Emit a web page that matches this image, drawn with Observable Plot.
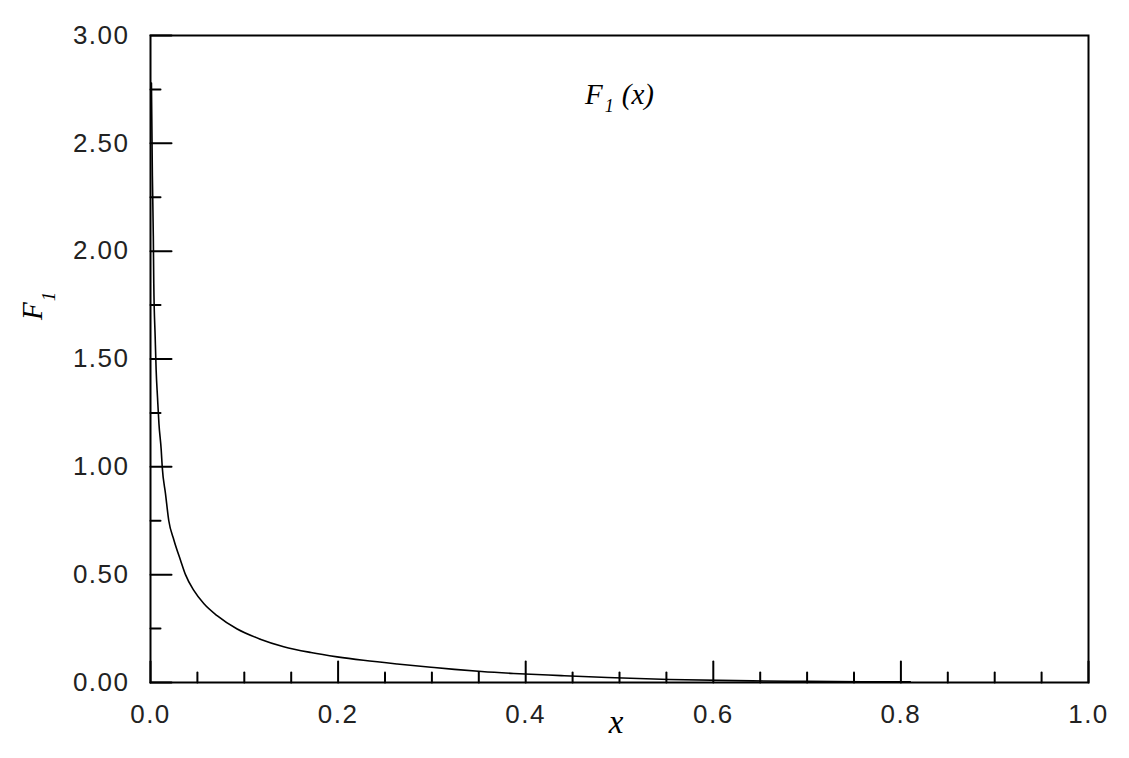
<!DOCTYPE html>
<html><head><meta charset="utf-8">
<script src="https://cdn.jsdelivr.net/npm/d3@7"></script>
<script src="https://cdn.jsdelivr.net/npm/@observablehq/plot@0.6"></script>
<style>body{margin:0;background:#fff}</style>
</head><body><div id="chart"></div>
<script>
// Curve F1(x), values
const xValues = [0.001, 0.002, 0.003, 0.0035, 0.005, 0.006, 0.0075, 0.009, 0.0114, 0.0125, 0.016, 0.0195, 0.025, 0.032, 0.0373, 0.046, 0.057, 0.071, 0.0924, 0.117, 0.142, 0.171, 0.199, 0.227, 0.263, 0.299, 0.324, 0.353, 0.387, 0.438, 0.487, 0.553, 0.642, 0.70, 0.76, 0.81];
const fValues = [2.78, 2.35, 2.07, 1.85, 1.6, 1.45, 1.32, 1.2, 1.08, 1.0, 0.875, 0.75, 0.66, 0.567, 0.5, 0.428, 0.365, 0.31, 0.248, 0.201, 0.166, 0.139, 0.119, 0.103, 0.086, 0.071, 0.061, 0.051, 0.042, 0.032, 0.023, 0.014, 0.0075, 0.005, 0.0035, 0.003];

const xMajorTicks = [0, 0.2, 0.4, 0.6, 0.8, 1.0];
const xMinorTicks = [0.05, 0.1, 0.15, 0.25, 0.3, 0.35, 0.45, 0.5, 0.55, 0.65, 0.7, 0.75, 0.85, 0.9, 0.95];
const yMajorTicks = [0, 0.5, 1.0, 1.5, 2.0, 2.5, 3.0];
const yMinorTicks = [0.25, 0.75, 1.25, 1.75, 2.25, 2.75];

const titleMain = "F", titleSub = "1", titleTail = "(x)";
const xLabelText = "x";
const yLabelMain = "F", yLabelSub = "1";

const data = xValues.map((x, i) => ({x, f: fValues[i]}));
const tickShape = {draw(ctx, l) { ctx.moveTo(0, 0); ctx.lineTo(0, -l); }};

const chart = Plot.plot({
  width: 1129, height: 758,
  marginLeft: 150, marginRight: 41, marginTop: 35, marginBottom: 76,
  style: {fontFamily: "Liberation Sans", background: "#fff", overflow: "visible"},
  x: {domain: [0, 1]},
  y: {domain: [0, 3]},
  marks: [
    Plot.line(data, {x: "x", y: "f", stroke: "#000", strokeWidth: 1.6, curve: "monotone-x"}),
    Plot.vector(xMinorTicks, {x: d => d, y: () => 0, length: 10, anchor: "start", shape: tickShape, stroke: "#000", strokeWidth: 2}),
    Plot.vector(xMajorTicks, {x: d => d, y: () => 0, length: 21, anchor: "start", shape: tickShape, stroke: "#000", strokeWidth: 2}),
    Plot.vector(yMinorTicks, {x: () => 0, y: d => d, length: 10, rotate: 90, anchor: "start", shape: tickShape, stroke: "#000", strokeWidth: 2}),
    Plot.vector(yMajorTicks, {x: () => 0, y: d => d, length: 21, rotate: 90, anchor: "start", shape: tickShape, stroke: "#000", strokeWidth: 2}),
    Plot.frame({stroke: "#000", strokeWidth: 2}),
    Plot.axisX({ticks: xMajorTicks, tickSize: 0, tickPadding: 22, tickFormat: d3.format(".1f"), fontSize: 26, fill: "#222", label: null}),
    Plot.axisY({ticks: yMajorTicks, tickSize: 0, tickPadding: 21, tickFormat: d3.format(".2f"), fontSize: 26, fill: "#222", label: null})
  ]
});
document.getElementById("chart").appendChild(chart);

const svg = d3.select(chart);
svg.selectAll('g[aria-label$="tick label"] text').attr("letter-spacing", "1.5px");

const serif = "'Liberation Serif', 'DejaVu Serif', serif";
const title = svg.append("text")
  .attr("x", 585).attr("y", 104).attr("text-anchor", "start")
  .attr("font-family", serif).attr("font-style", "italic").attr("font-size", 29).attr("fill", "#000");
title.append("tspan").text(titleMain);
title.append("tspan").attr("font-size", 18).attr("dy", 8).attr("dx", 2).text(titleSub);
title.append("tspan").attr("dy", -8).attr("dx", 8).text(titleTail);

svg.append("text")
  .attr("x", 616).attr("y", 733).attr("text-anchor", "middle")
  .attr("font-family", serif).attr("font-style", "italic").attr("font-size", 33).attr("fill", "#000")
  .text(xLabelText);

const yl = svg.append("text")
  .attr("transform", "translate(42,320) rotate(-90)").attr("text-anchor", "start")
  .attr("font-family", serif).attr("font-style", "italic").attr("font-size", 29).attr("fill", "#000");
yl.append("tspan").text(yLabelMain);
yl.append("tspan").attr("font-size", 19).attr("dy", 13).attr("dx", 1).text(yLabelSub);
</script>
</body></html>
